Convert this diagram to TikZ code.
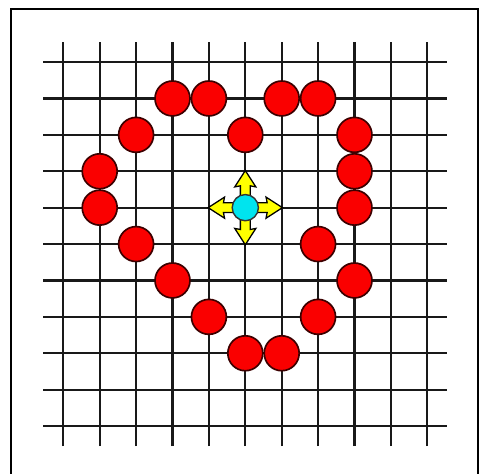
\documentclass[tikz,border=0pt]{standalone}
\usetikzlibrary{calc}
\definecolor{StoneRed}{RGB}{250,0,0}
\definecolor{StoneEdge}{RGB}{60,0,0}
\definecolor{PieceCyan}{RGB}{0,228,238}
\definecolor{MoveYellow}{RGB}{255,255,0}

\begin{document}
\begin{tikzpicture}[
  gridline/.style={line width=1.8pt, black!90},
  stone/.style={circle, draw=StoneEdge, line width=1.3pt, fill=StoneRed,
                minimum size=0.96cm, inner sep=0pt},
  piece/.style={circle, draw=black!80, line width=1.1pt, fill=PieceCyan,
                minimum size=0.72cm, inner sep=0pt},
  movearrow/.style={draw=black, line width=1pt, fill=MoveYellow, line join=miter}
]
  \def\N{10}   % last grid index
  \def\ext{0.55} % overhang of the grid lines

  % frame, cut by the page at the bottom
  \clip (-1.739,-1.30) rectangle (11.448,11.705);
  \fill[white] (-1.739,-1.30) rectangle (11.448,11.705);
  \draw[line width=1.5pt] (-1.437,-2) rectangle (11.40,11.449);

  % board
  \foreach \i in {0,...,\N}{
    \draw[gridline] (\i,-\ext) -- (\i,\N+\ext);
    \draw[gridline] (-\ext,\i) -- (\N+\ext,\i);
  }

  % stones (column/row counted from the top)
  \foreach \c/\r [count=\k] in {
    3/1, 4/1, 6/1, 7/1,
    2/2, 5/2, 8/2,
    1/3, 8/3,
    1/4, 8/4,
    2/5, 7/5,
    3/6, 8/6,
    4/7, 7/7,
    5/8, 6/8
  }{
    \node[stone] (s\k) at (\c,\N-\r) {};
  }

  % moving piece with its four moves
  \coordinate (ctr) at (5,6);
  \foreach \a in {0,90,180,270}{
    \draw[movearrow, shift={(ctr)}, rotate=\a]
      (0,-0.135) -- (0.6,-0.135) -- (0.57,-0.29) -- (1.02,0)
      -- (0.57,0.29) -- (0.6,0.135) -- (0,0.135) -- cycle;
  }
  \node[piece] (p) at (ctr) {};
\end{tikzpicture}
\end{document}
